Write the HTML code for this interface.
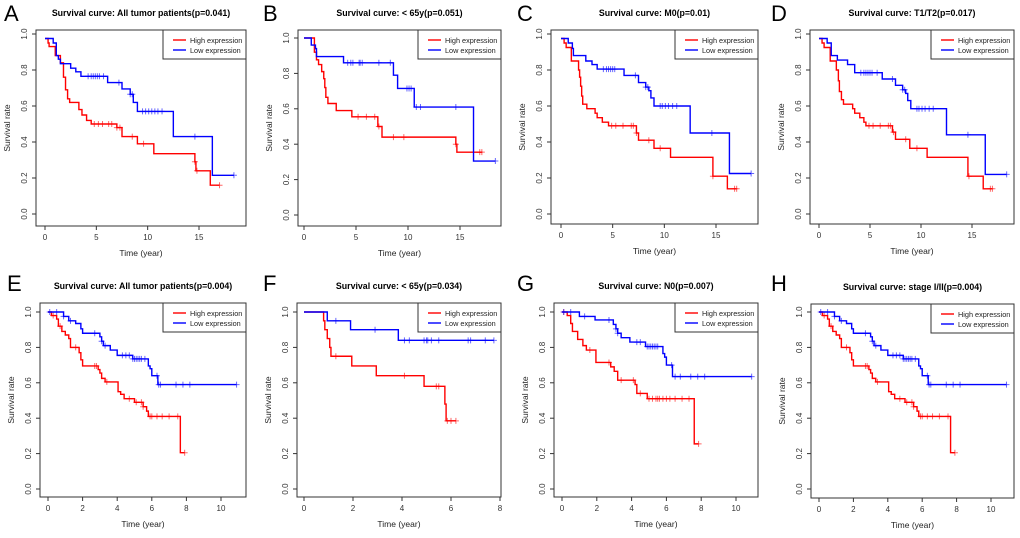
<!DOCTYPE html>
<html><head><meta charset="utf-8"><style>
body{margin:0;background:#fff;}
svg{display:block;font-family:"Liberation Sans",Arial,sans-serif;}
</style></head><body>
<svg id="fig" width="1020" height="538" viewBox="0 0 1020 538"></svg>
<script>
// ===== Data (time in years, survival after each step) =====
const aHighT=[0,0.3,0.4,1.0,1.5,1.8,2.0,2.2,2.4,3.3,3.6,4.05,4.5,7.0,7.5,9.0,10.6,14.6,14.7,16.1];
const aHighS=[0.975,0.95,0.93,0.88,0.84,0.76,0.69,0.64,0.62,0.58,0.55,0.52,0.50,0.48,0.43,0.39,0.335,0.29,0.24,0.16];
const aHighC=[4.8,5.2,5.6,6.2,6.5,7.0,7.3,8.5,9.6,14.6,14.8,17.0];
const aLowT=[0,0.8,1.1,1.3,1.5,2.5,3.0,3.5,6.1,7.5,8.3,8.6,9.0,12.5,16.3];
const aLowS=[0.975,0.95,0.88,0.86,0.835,0.81,0.79,0.765,0.73,0.695,0.665,0.62,0.57,0.43,0.215];
const aLowC=[4.2,4.5,4.7,4.9,5.1,5.3,5.7,7.2,8.3,8.5,9.5,9.8,10.1,10.4,10.7,11.0,11.4,14.6,18.4];

const bHighT=[0,1.0,1.2,1.4,1.7,1.9,2.0,2.1,2.3,3.1,4.6,7.1,7.5,14.6,14.7];
const bHighS=[1.0,0.92,0.877,0.85,0.81,0.77,0.72,0.665,0.63,0.59,0.555,0.50,0.44,0.40,0.355];
const bHighC=[5.2,6.0,6.8,7.2,8.6,9.6,14.6,16.9,17.1];
const bLowT=[0,0.7,1.1,1.2,3.8,8.6,9.0,10.6,16.3];
const bLowS=[1.0,0.96,0.94,0.895,0.86,0.79,0.715,0.61,0.305];
const bLowC=[4.2,4.5,4.7,5.3,5.4,5.6,7.2,8.3,9.9,10.1,10.3,10.8,11.2,14.6,18.4];

const cHighT=[0,0.3,0.5,1.0,1.7,1.8,1.9,2.0,2.1,2.5,3.3,3.5,4.0,4.6,7.3,7.5,9.0,10.6,14.7,16.1];
const cHighS=[0.975,0.95,0.925,0.85,0.80,0.76,0.71,0.655,0.61,0.585,0.56,0.535,0.51,0.49,0.45,0.41,0.365,0.315,0.21,0.14];
const cHighC=[4.9,5.3,6.0,6.8,7.0,7.3,8.5,9.6,14.7,16.8,17.0];
const cLowT=[0,0.7,1.1,1.2,2.4,3.0,3.5,6.1,7.5,8.2,8.5,8.7,9.0,12.5,16.3];
const cLowS=[0.975,0.95,0.92,0.88,0.85,0.83,0.805,0.77,0.73,0.705,0.685,0.645,0.60,0.45,0.225];
const cLowC=[4.1,4.4,4.6,4.8,5.0,5.2,7.2,8.2,8.4,9.6,9.8,10.1,10.4,10.8,11.2,14.6,18.4];

const dHighT=[0,0.3,0.5,1.1,1.7,1.9,2.0,2.2,2.4,3.3,3.5,4.0,4.4,4.6,7.2,7.5,8.9,10.6,14.6,16.1];
const dHighS=[0.975,0.95,0.925,0.85,0.80,0.74,0.68,0.635,0.61,0.585,0.56,0.535,0.51,0.49,0.455,0.415,0.365,0.315,0.21,0.14];
const dHighC=[4.9,5.3,6.0,6.8,7.0,7.3,8.5,9.6,14.7,16.8,17.0];
const dLowT=[0,0.8,1.2,1.8,2.8,3.5,6.2,7.5,8.2,8.5,8.7,9.0,12.5,16.3];
const dLowS=[0.975,0.95,0.88,0.855,0.83,0.785,0.75,0.715,0.69,0.67,0.63,0.585,0.44,0.22];
const dLowC=[4.1,4.4,4.6,4.8,5.0,5.2,5.7,7.2,8.2,8.4,9.6,9.8,10.1,10.4,10.8,11.2,14.6,18.4];

const eHighT=[0,0.2,0.5,0.6,0.8,1.0,1.2,1.3,1.8,1.9,2.0,2.9,3.0,3.1,3.3,4.05,4.2,4.4,5.0,5.5,5.7,5.8,7.65];
const eHighS=[1.0,0.98,0.96,0.92,0.89,0.87,0.85,0.80,0.77,0.73,0.695,0.675,0.655,0.625,0.605,0.55,0.535,0.51,0.49,0.465,0.44,0.41,0.205];
const eHighC=[0.3,0.7,1.6,2.7,2.8,3.4,4.7,5.1,5.4,5.5,5.9,6.0,6.3,6.6,7.0,7.5,7.9];
const eLowT=[0,0.9,1.2,1.6,1.9,2.0,3.0,3.1,3.2,3.6,4.0,4.9,5.8,5.9,6.0,6.35];
const eLowS=[1.0,0.975,0.95,0.935,0.905,0.88,0.86,0.835,0.81,0.785,0.755,0.735,0.695,0.68,0.64,0.59];
const eLowC=[0.1,0.5,0.9,1.3,2.7,3.1,3.3,4.3,4.5,4.7,4.9,5.0,5.1,5.2,5.3,5.4,5.6,6.3,6.4,6.5,7.4,7.8,8.2,10.9];

const fHighT=[0,0.8,0.85,0.95,1.05,1.1,1.95,2.95,4.9,5.75,5.8];
const fHighS=[1.0,0.95,0.90,0.85,0.80,0.75,0.695,0.64,0.58,0.48,0.385];
const fHighC=[1.3,4.1,5.4,5.5,5.85,6.0,6.2];
const fLowT=[0,0.95,1.9,3.85];
const fLowS=[1.0,0.95,0.90,0.84];
const fLowC=[1.3,2.9,4.1,4.3,4.9,5.0,5.05,5.2,5.5,6.7,6.8,7.4,7.75];

const gHighT=[0,0.3,0.5,0.6,0.9,1.2,1.4,1.95,2.8,3.0,3.2,4.2,4.3,4.9,7.6];
const gHighS=[1.0,0.98,0.935,0.89,0.845,0.81,0.785,0.715,0.69,0.665,0.615,0.59,0.54,0.51,0.255];
const gHighC=[0.1,1.6,2.7,3.4,4.1,4.5,5.0,5.2,5.4,5.5,5.6,5.8,6.0,6.2,6.5,6.9,7.3,7.85];
const gLowT=[0,1.0,1.9,2.95,3.1,3.2,3.4,3.9,4.8,5.8,5.9,6.0,6.35];
const gLowS=[1.0,0.975,0.955,0.93,0.905,0.88,0.855,0.83,0.805,0.765,0.745,0.70,0.635];
const gLowC=[0.1,0.5,1.3,2.7,3.1,3.2,4.3,4.5,4.9,5.0,5.1,5.2,5.3,5.4,5.5,6.3,6.5,6.8,7.4,7.8,8.2,10.9];

const hHighT=[0,0.2,0.5,0.6,0.8,1.0,1.2,1.3,1.8,1.9,2.0,2.9,3.0,3.1,3.3,4.05,4.2,4.4,5.0,5.5,5.7,5.8,7.65];
const hHighS=[1.0,0.98,0.96,0.92,0.89,0.87,0.85,0.80,0.77,0.73,0.695,0.675,0.655,0.625,0.605,0.55,0.535,0.51,0.49,0.465,0.44,0.41,0.205];
const hHighC=[0.3,0.7,1.6,2.7,2.8,3.4,4.7,5.1,5.4,5.5,5.9,6.0,6.3,6.6,7.0,7.5,7.9];
const hLowT=[0,0.9,1.2,1.6,1.9,2.0,3.0,3.1,3.2,3.6,4.0,4.9,5.8,5.9,6.0,6.35];
const hLowS=[1.0,0.975,0.95,0.935,0.905,0.88,0.86,0.835,0.81,0.785,0.755,0.735,0.695,0.68,0.64,0.59];
const hLowC=[0.1,0.5,0.9,1.3,2.7,3.1,3.3,4.3,4.5,4.7,4.9,5.0,5.1,5.2,5.3,5.4,5.6,6.3,6.4,6.5,7.4,7.8,8.2,10.9];

const yTicks=[0,0.2,0.4,0.6,0.8,1.0];
const yTickLabels=["0.0","0.2","0.4","0.6","0.8","1.0"];
const xTicksLong=[0,5,10,15];
const xTicksShort=[0,2,4,6,8,10];
const xTicksF=[0,2,4,6,8];

const NS="http://www.w3.org/2000/svg";
const svg=document.getElementById('fig');
function mk(tag,attrs,parent){const e=document.createElementNS(NS,tag);for(const k in attrs)e.setAttribute(k,attrs[k]);(parent||svg).appendChild(e);return e;}

const panels=[
 {id:'a',L:'A',title:'Survival curve: All tumor patients(p=0.041)',bx0:36,bx1:246,by0:30,by1:226,x0:45,xu:(199-45)/15,y1:34,y0:214,xt:xTicksLong,lx:4,ly:21},
 {id:'b',L:'B',title:'Survival curve: < 65y(p=0.051)',bx0:298,bx1:501,by0:30,by1:226,x0:304,xu:(460-304)/15,y1:38,y0:215,xt:xTicksLong,lx:263,ly:21},
 {id:'c',L:'C',title:'Survival curve: M0(p=0.01)',bx0:551,bx1:758,by0:30,by1:224,x0:561,xu:(716-561)/15,y1:34,y0:214,xt:xTicksLong,lx:517,ly:21},
 {id:'d',L:'D',title:'Survival curve: T1/T2(p=0.017)',bx0:810,bx1:1014,by0:30,by1:224,x0:819,xu:(972-819)/15,y1:34,y0:214,xt:xTicksLong,lx:771,ly:21},
 {id:'e',L:'E',title:'Survival curve: All tumor patients(p=0.004)',bx0:40,bx1:246,by0:303,by1:497,x0:48,xu:(221-48)/10,y1:312,y0:489,xt:xTicksShort,lx:7,ly:291},
 {id:'f',L:'F',title:'Survival curve: < 65y(p=0.034)',bx0:297,bx1:501,by0:303,by1:497,x0:304,xu:(500-304)/8,y1:312,y0:489,xt:xTicksF,lx:263,ly:291},
 {id:'g',L:'G',title:'Survival curve: N0(p=0.007)',bx0:554,bx1:758,by0:303,by1:497,x0:562,xu:(736-562)/10,y1:312,y0:489,xt:xTicksShort,lx:517,ly:291},
 {id:'h',L:'H',title:'Survival curve: stage I/II(p=0.004)',bx0:811,bx1:1014,by0:304,by1:498,x0:819,xu:(991-819)/10,y1:312,y0:489,xt:xTicksShort,lx:771,ly:291}
];
const dataMap={
 a:[aHighT,aHighS,aHighC,aLowT,aLowS,aLowC],b:[bHighT,bHighS,bHighC,bLowT,bLowS,bLowC],
 c:[cHighT,cHighS,cHighC,cLowT,cLowS,cLowC],d:[dHighT,dHighS,dHighC,dLowT,dLowS,dLowC],
 e:[eHighT,eHighS,eHighC,eLowT,eLowS,eLowC],f:[fHighT,fHighS,fHighC,fLowT,fLowS,fLowC],
 g:[gHighT,gHighS,gHighC,gLowT,gLowS,gLowC],h:[hHighT,hHighS,hHighC,hLowT,hLowS,hLowC]};

function stepAt(T,S,t){let v=S[0];for(let i=0;i<T.length;i++){if(T[i]<=t)v=S[i];}return v;}

panels.forEach(p=>{
 const g=mk('g',{});
 
 
 const X=t=>p.x0+t*p.xu, Y=s=>p.y0-s*(p.y0-p.y1);
 const cx=(p.bx0+p.bx1)/2;
 const let_=mk('text',{x:p.lx,y:p.ly,'font-size':22},g);let_.textContent=p.L;
 
 const tt=mk('text',{x:cx,y:p.by0-14,'font-size':8.8,'font-weight':'bold','text-anchor':'middle'},g);tt.textContent=p.title;
 
 const box=mk('rect',{x:p.bx0,y:p.by0,width:p.bx1-p.bx0,height:p.by1-p.by0,fill:'none',stroke:'#333','stroke-width':1},g);
 
 const ya=mk('g',{},g);
 mk('line',{x1:p.bx0,x2:p.bx0,y1:Y(0),y2:Y(1),stroke:'#333'},ya);
 yTicks.forEach((v,i)=>{mk('line',{x1:p.bx0-4,x2:p.bx0,y1:Y(v),y2:Y(v),stroke:'#333'},ya);
  const tx=p.bx0-9;const t=mk('text',{x:tx,y:Y(v),'font-size':8,fill:'#333','text-anchor':'middle',transform:`rotate(-90 ${tx} ${Y(v)})`},ya);t.textContent=yTickLabels[i];});
 const yl=mk('text',{x:p.bx0-26,y:(p.by0+p.by1)/2,'font-size':8.5,fill:'#222','text-anchor':'middle',transform:`rotate(-90 ${p.bx0-26} ${(p.by0+p.by1)/2})`},g);yl.textContent='Survival rate';
 
 const xa=mk('g',{},g);
 mk('line',{x1:X(p.xt[0]),x2:X(p.xt[p.xt.length-1]),y1:p.by1,y2:p.by1,stroke:'#333'},xa);
 p.xt.forEach(v=>{mk('line',{x1:X(v),x2:X(v),y1:p.by1,y2:p.by1+4,stroke:'#333'},xa);
  const t=mk('text',{x:X(v),y:p.by1+14,'font-size':8,fill:'#333','text-anchor':'middle'},xa);t.textContent=v;});
 const xl=mk('text',{x:cx,y:p.by1+30,'font-size':8.5,fill:'#222','text-anchor':'middle'},g);xl.textContent='Time (year)';
 
 const d=dataMap[p.id];
 [[d[0],d[1],d[2],'#ff0000','high'],[d[3],d[4],d[5],'#0000ff','low']].forEach(([T,S,C,col,nm])=>{
  const end=Math.max(T[T.length-1],C.length?C[C.length-1]:0);
  let path=`M${X(T[0])},${Y(S[0])}`;
  for(let i=1;i<T.length;i++){path+=` H${X(T[i])} V${Y(S[i])}`;}
  path+=` H${X(end)}`;
  const pe=mk('path',{d:path,fill:'none',stroke:col,'stroke-width':1.4},g);
  
  
  C.forEach(t=>{const s=stepAt(T,S,t);
   const m=mk('path',{d:`M${X(t)-3},${Y(s)} H${X(t)+3} M${X(t)},${Y(s)-3} V${Y(s)+3}`,stroke:col,'stroke-width':1,'stroke-opacity':0.6},g);
   
   });
 });
 const lg=mk('g',{},g);
 const lx=p.bx1-83, ly=p.by0;
 mk('rect',{x:lx,y:ly,width:83,height:29,fill:'#fff',stroke:'#333'},lg);
 [['High expression','#ff0000',10],['Low expression','#0000ff',20]].forEach(([lab,col,dy])=>{
  mk('line',{x1:lx+10,x2:lx+23,y1:ly+dy,y2:ly+dy,stroke:col,'stroke-width':1.4},lg);
  const t=mk('text',{x:lx+27,y:ly+dy+3,'font-size':7.3,fill:'#222'},lg);t.textContent=lab;});
});
</script>
</body></html>
